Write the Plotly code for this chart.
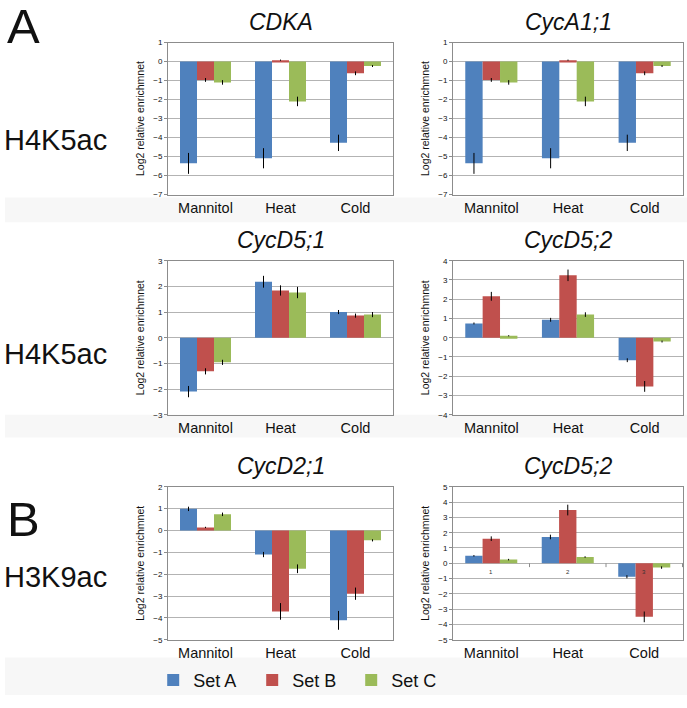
import plotly.graph_objects as go

categories = ["Mannitol", "Heat", "Cold"]
set_names = ["Set A", "Set B", "Set C"]
set_colors = ["#4F81BD", "#C0504D", "#9BBB59"]

panel_titles = ["CDKA", "CycA1;1", "CycD5;1", "CycD5;2", "CycD2;1", "CycD5;2"]
row_labels = ["H4K5ac", "H4K5ac", "H3K9ac"]
section_labels = ["A", "B"]

# values per panel: [Set A, Set B, Set C] each over categories
cdka_vals = [[-5.36, -5.09, -4.28], [-0.97, 0.07, -0.62], [-1.10, -2.10, -0.24]]
cdka_err = [[0.55, 0.53, 0.43], [0.10, 0.03, 0.10], [0.12, 0.25, 0.05]]

cyca11_vals = [[-5.36, -5.09, -4.28], [-0.97, 0.07, -0.62], [-1.10, -2.10, -0.24]]
cyca11_err = [[0.55, 0.53, 0.43], [0.10, 0.03, 0.10], [0.12, 0.25, 0.05]]

cycd51_vals = [[-2.10, 2.18, 1.00], [-1.31, 1.84, 0.86], [-0.96, 1.76, 0.90]]
cycd51_err = [[0.22, 0.23, 0.08], [0.12, 0.20, 0.08], [0.10, 0.22, 0.10]]

cycd52_vals = [[0.74, 0.93, -1.17], [2.15, 3.24, -2.53], [0.10, 1.20, -0.20]]
cycd52_err = [[0.05, 0.10, 0.10], [0.23, 0.30, 0.28], [0.03, 0.12, 0.05]]

cycd21_vals = [[0.99, -1.10, -4.11], [0.14, -3.70, -2.89], [0.74, -1.75, -0.45]]
cycd21_err = [[0.10, 0.12, 0.43], [0.03, 0.38, 0.28], [0.08, 0.20, 0.05]]

cycd52b_vals = [[0.49, 1.72, -0.88], [1.61, 3.48, -3.50], [0.24, 0.41, -0.28]]
cycd52b_err = [[0.05, 0.15, 0.10], [0.15, 0.35, 0.35], [0.05, 0.05, 0.08]]

panel_vals = [cdka_vals, cyca11_vals, cycd51_vals, cycd52_vals, cycd21_vals, cycd52b_vals]
panel_errs = [cdka_err, cyca11_err, cycd51_err, cycd52_err, cycd21_err, cycd52b_err]
y_ranges = [(-7, 1), (-7, 1), (-3, 3), (-4, 4), (-5, 2), (-5, 5)]
inner_tick_labels = ["1", "2", "3"]

W, H = 687, 708
col_px = [(168, 393), (453, 683)]
row_px = [(39, 193), (260, 416), (489, 644)]

FONT = "Arial"

fig = go.Figure()
layout = dict(
    width=W, height=H, margin=dict(l=0, r=0, t=0, b=0),
    paper_bgcolor="white", plot_bgcolor="white",
    barmode="group", bargap=0.32, bargroupgap=0.0,
    font=dict(family=FONT, color="#111"),
    showlegend=True,
    legend=dict(orientation="h", x=0.223, y=0.006, xanchor="left", yanchor="bottom",
                font=dict(size=18, family=FONT, color="#111"),
                entrywidth=54, entrywidthmode="pixels", itemsizing="constant",
                bgcolor="rgba(0,0,0,0)"),
)
annotations = []
shapes = []

# faint grey bands behind axis labels
for (y0, y1) in [(196, 221), (416, 439), (662, 700)]:
    shapes.append(dict(type="rect", xref="paper", yref="paper", x0=5 / W, x1=1,
                       y0=1 - y1 / H, y1=1 - y0 / H, fillcolor="#f7f7f7",
                       line=dict(width=0), layer="below"))

for p in range(6):
    r, c = divmod(p, 2)
    idx = p + 1
    xa = "x" if idx == 1 else f"x{idx}"
    ya = "y" if idx == 1 else f"y{idx}"
    xkey = "xaxis" if idx == 1 else f"xaxis{idx}"
    ykey = "yaxis" if idx == 1 else f"yaxis{idx}"
    x0, x1 = col_px[c]
    ytop, ybot = row_px[r]
    layout[xkey] = dict(domain=[x0 / W, x1 / W], anchor=ya, showline=True, mirror=True,
                        linecolor="#8c8c8c", linewidth=1, ticks="", showgrid=False,
                        tickfont=dict(size=14.5, family=FONT, color="#111"),
                        categoryorder="array", categoryarray=categories)
    lo, hi = y_ranges[p]
    layout[ykey] = dict(domain=[1 - ybot / H, 1 - ytop / H], anchor=xa, range=[lo, hi],
                        dtick=1, showline=True, mirror=True, linecolor="#8c8c8c",
                        linewidth=1, showgrid=True, gridcolor="#b3b3b3", gridwidth=1,
                        zeroline=True, zerolinecolor="#b3b3b3", zerolinewidth=1,
                        ticks="outside", ticklen=3, tickcolor="#8c8c8c",
                        tickfont=dict(size=8, family=FONT, color="#111"),
                        title=dict(text="Log2 relative enrichmnet", standoff=6,
                                   font=dict(size=10.5, family=FONT, color="#111")))
    for s in range(3):
        fig.add_trace(go.Bar(
            x=categories, y=panel_vals[p][s], name=set_names[s],
            marker=dict(color=set_colors[s], line=dict(width=0)),
            error_y=dict(type="data", array=panel_errs[p][s], color="black",
                         thickness=1, width=0, visible=True),
            xaxis=xa, yaxis=ya, showlegend=(p == 0), legendgroup=set_names[s],
        ))
    annotations.append(dict(text=f"<i>{panel_titles[p]}</i>", xref="paper", yref="paper",
                            x=(x0 + x1) / 2 / W, y=1 - (ytop - 21) / H, showarrow=False,
                            xanchor="center", yanchor="middle",
                            font=dict(size=23, family=FONT, color="#111")))

# inner axis labels on last panel
for i, cat in enumerate(categories):
    annotations.append(dict(text=inner_tick_labels[i], xref="x6", yref="y6", x=cat, y=-0.6,
                            showarrow=False, font=dict(size=6, family=FONT, color="#333")))
for b in [0.5, 1.5, 2.5]:
    shapes.append(dict(type="line", xref="x6", yref="y6", x0=b, x1=b, y0=0, y1=-0.25,
                       line=dict(color="#8c8c8c", width=1)))

# row / section labels
for lbl, yc in zip(row_labels, [138, 355, 580]):
    annotations.append(dict(text=lbl, xref="paper", yref="paper", x=2 / W, y=1 - yc / H,
                            xanchor="left", yanchor="middle", showarrow=False,
                            font=dict(size=29, family=FONT, color="#111")))
for lbl, yc in zip(section_labels, [22, 522]):
    annotations.append(dict(text=lbl, xref="paper", yref="paper", x=5 / W, y=1 - yc / H,
                            xanchor="left", yanchor="middle", showarrow=False,
                            font=dict(size=49, family=FONT, color="#111")))

layout["annotations"] = annotations
layout["shapes"] = shapes
fig.update_layout(**layout)
fig.write_html("out.html", config={"displayModeBar": False},
               post_script="document.body.style.margin='0px';document.body.style.overflow='hidden';")
